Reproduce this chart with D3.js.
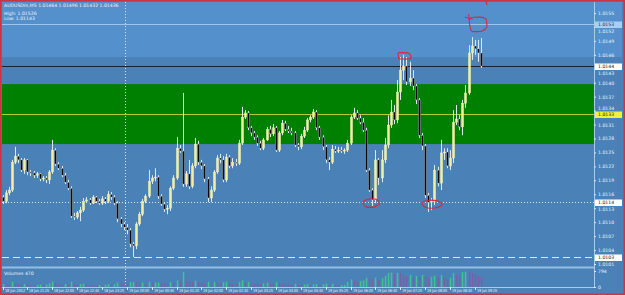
<!DOCTYPE html>
<html>
<head>
<meta charset="utf-8">
<script src="https://cdn.jsdelivr.net/npm/d3@7"></script>
<style>
  html, body { margin: 0; padding: 0; background: #fff; }
  svg { display: block; font-family: "DejaVu Sans", sans-serif; }
</style>
</head>
<body>
<svg id="chart" width="625" height="295"></svg>
<script>
// AUDUSDm M5, 18 Jun 20:40 .. 19 Jun 09:35
const symbol = "AUDUSDm,M5";

const opens = [
  1.01154, 1.01145, 1.01163, 1.01169, 1.01229, 1.01242, 1.01234, 1.01212, 1.01234, 1.01208,
  1.01206, 1.01201, 1.01204, 1.01193, 1.01195, 1.01191, 1.01208, 1.01255, 1.01225, 1.01216,
  1.01201, 1.01186, 1.01173, 1.01113, 1.01111, 1.01120, 1.01126, 1.01145, 1.01148, 1.01141,
  1.01154, 1.01145, 1.01141, 1.01150, 1.01145, 1.01160, 1.01154, 1.01141, 1.01107, 1.01096,
  1.01089, 1.01083, 1.01053, 1.01049, 1.01096, 1.01117, 1.01145, 1.01156, 1.01188, 1.01195,
  1.01197, 1.01156, 1.01139, 1.01128, 1.01130, 1.01173, 1.01195, 1.01259, 1.01253, 1.01182,
  1.01204, 1.01177, 1.01221, 1.01268, 1.01229, 1.01221, 1.01193, 1.01152, 1.01169, 1.01208,
  1.01238, 1.01234, 1.01191, 1.01240, 1.01221, 1.01229, 1.01227, 1.01270, 1.01326, 1.01335,
  1.01303, 1.01292, 1.01283, 1.01270, 1.01259, 1.01277, 1.01300, 1.01290, 1.01303, 1.01255,
  1.01292, 1.01313, 1.01300, 1.01296, 1.01292, 1.01266, 1.01262, 1.01285, 1.01298, 1.01320,
  1.01326, 1.01337, 1.01303, 1.01283, 1.01262, 1.01234, 1.01229, 1.01257, 1.01253, 1.01255,
  1.01253, 1.01255, 1.01270, 1.01326, 1.01335, 1.01324, 1.01315, 1.01298, 1.01212, 1.01169,
  1.01148, 1.01234, 1.01195, 1.01234, 1.01266, 1.01309, 1.01337, 1.01320, 1.01380, 1.01427,
  1.01436, 1.01402, 1.01410, 1.01393, 1.01363, 1.01287, 1.01264, 1.01158, 1.01143, 1.01145,
  1.01212, 1.01184, 1.01249, 1.01251, 1.01221, 1.01238, 1.01315, 1.01322, 1.01305, 1.01356,
  1.01378, 1.01464, 1.01479, 1.01473, 1.01464
];
const highs = [
  1.01158, 1.01169, 1.01176, 1.01234, 1.01262, 1.01247, 1.01238, 1.01238, 1.01236, 1.01212,
  1.01210, 1.01208, 1.01206, 1.01199, 1.01199, 1.01212, 1.01277, 1.01259, 1.01229, 1.01221,
  1.01206, 1.01191, 1.01177, 1.01120, 1.01124, 1.01133, 1.01152, 1.01154, 1.01152, 1.01158,
  1.01156, 1.01150, 1.01156, 1.01154, 1.01167, 1.01165, 1.01158, 1.01145, 1.01111, 1.01100,
  1.01096, 1.01087, 1.01057, 1.01100, 1.01122, 1.01150, 1.01160, 1.01212, 1.01201, 1.01216,
  1.01201, 1.01160, 1.01143, 1.01137, 1.01177, 1.01201, 1.01283, 1.01266, 1.01378, 1.01210,
  1.01234, 1.01227, 1.01281, 1.01275, 1.01234, 1.01225, 1.01197, 1.01177, 1.01212, 1.01244,
  1.01247, 1.01242, 1.01247, 1.01244, 1.01238, 1.01236, 1.01277, 1.01348, 1.01341, 1.01339,
  1.01307, 1.01296, 1.01287, 1.01275, 1.01281, 1.01305, 1.01307, 1.01311, 1.01307, 1.01296,
  1.01320, 1.01318, 1.01307, 1.01303, 1.01296, 1.01270, 1.01290, 1.01305, 1.01324, 1.01330,
  1.01343, 1.01341, 1.01307, 1.01287, 1.01266, 1.01240, 1.01266, 1.01264, 1.01262, 1.01262,
  1.01259, 1.01277, 1.01330, 1.01346, 1.01341, 1.01330, 1.01324, 1.01303, 1.01216, 1.01173,
  1.01255, 1.01238, 1.01255, 1.01281, 1.01330, 1.01363, 1.01352, 1.01406, 1.01455, 1.01460,
  1.01455, 1.01445, 1.01427, 1.01397, 1.01367, 1.01292, 1.01268, 1.01163, 1.01152, 1.01223,
  1.01219, 1.01277, 1.01259, 1.01259, 1.01255, 1.01341, 1.01352, 1.01330, 1.01363, 1.01395,
  1.01481, 1.01498, 1.01492, 1.01492, 1.01496
];
const lows = [
  1.01139, 1.01141, 1.01158, 1.01165, 1.01225, 1.01227, 1.01208, 1.01204, 1.01201, 1.01199,
  1.01195, 1.01195, 1.01188, 1.01188, 1.01184, 1.01182, 1.01204, 1.01221, 1.01212, 1.01197,
  1.01182, 1.01169, 1.01109, 1.01105, 1.01107, 1.01102, 1.01122, 1.01141, 1.01137, 1.01139,
  1.01141, 1.01137, 1.01137, 1.01139, 1.01141, 1.01148, 1.01137, 1.01100, 1.01089, 1.01083,
  1.01074, 1.01046, 1.01025, 1.01042, 1.01092, 1.01113, 1.01141, 1.01152, 1.01182, 1.01188,
  1.01150, 1.01135, 1.01122, 1.01117, 1.01124, 1.01169, 1.01191, 1.01249, 1.01176, 1.01176,
  1.01171, 1.01173, 1.01216, 1.01223, 1.01214, 1.01186, 1.01143, 1.01143, 1.01165, 1.01204,
  1.01227, 1.01186, 1.01186, 1.01216, 1.01216, 1.01221, 1.01223, 1.01266, 1.01322, 1.01298,
  1.01285, 1.01277, 1.01264, 1.01255, 1.01255, 1.01275, 1.01283, 1.01285, 1.01251, 1.01251,
  1.01287, 1.01296, 1.01292, 1.01287, 1.01262, 1.01255, 1.01257, 1.01281, 1.01294, 1.01315,
  1.01322, 1.01298, 1.01277, 1.01255, 1.01227, 1.01212, 1.01225, 1.01249, 1.01249, 1.01249,
  1.01247, 1.01251, 1.01266, 1.01322, 1.01320, 1.01311, 1.01294, 1.01208, 1.01165, 1.01135,
  1.01141, 1.01180, 1.01186, 1.01227, 1.01259, 1.01303, 1.01311, 1.01313, 1.01363, 1.01406,
  1.01395, 1.01393, 1.01384, 1.01354, 1.01281, 1.01255, 1.01152, 1.01122, 1.01126, 1.01137,
  1.01177, 1.01169, 1.01234, 1.01216, 1.01212, 1.01227, 1.01309, 1.01298, 1.01287, 1.01346,
  1.01374, 1.01449, 1.01460, 1.01445, 1.01432
];
const closes = [
  1.01145, 1.01163, 1.01169, 1.01229, 1.01242, 1.01234, 1.01212, 1.01234, 1.01208, 1.01206,
  1.01201, 1.01204, 1.01193, 1.01195, 1.01191, 1.01208, 1.01255, 1.01225, 1.01216, 1.01201,
  1.01186, 1.01173, 1.01113, 1.01111, 1.01120, 1.01126, 1.01145, 1.01148, 1.01141, 1.01154,
  1.01145, 1.01141, 1.01150, 1.01145, 1.01160, 1.01154, 1.01141, 1.01107, 1.01096, 1.01089,
  1.01083, 1.01053, 1.01049, 1.01096, 1.01117, 1.01145, 1.01156, 1.01188, 1.01195, 1.01197,
  1.01156, 1.01139, 1.01128, 1.01130, 1.01173, 1.01195, 1.01259, 1.01253, 1.01182, 1.01204,
  1.01177, 1.01221, 1.01268, 1.01229, 1.01221, 1.01193, 1.01152, 1.01169, 1.01208, 1.01238,
  1.01234, 1.01191, 1.01240, 1.01221, 1.01229, 1.01227, 1.01270, 1.01326, 1.01335, 1.01303,
  1.01292, 1.01283, 1.01270, 1.01259, 1.01277, 1.01300, 1.01290, 1.01303, 1.01255, 1.01292,
  1.01313, 1.01300, 1.01296, 1.01292, 1.01266, 1.01262, 1.01285, 1.01298, 1.01320, 1.01326,
  1.01337, 1.01303, 1.01283, 1.01262, 1.01234, 1.01229, 1.01257, 1.01253, 1.01255, 1.01253,
  1.01255, 1.01270, 1.01326, 1.01335, 1.01324, 1.01315, 1.01298, 1.01212, 1.01169, 1.01148,
  1.01234, 1.01195, 1.01234, 1.01266, 1.01309, 1.01337, 1.01320, 1.01380, 1.01427, 1.01436,
  1.01402, 1.01410, 1.01393, 1.01363, 1.01287, 1.01264, 1.01158, 1.01143, 1.01145, 1.01212,
  1.01184, 1.01249, 1.01251, 1.01221, 1.01238, 1.01315, 1.01322, 1.01305, 1.01356, 1.01378,
  1.01464, 1.01479, 1.01473, 1.01464, 1.01436
];
const volumes = [
  150, 120, 100, 260, 180, 140, 120, 150, 130, 90,
  80, 110, 120, 90, 130, 190, 280, 200, 140, 120,
  150, 130, 260, 150, 120, 140, 170, 110, 100, 90,
  80, 100, 90, 110, 150, 120, 140, 230, 180, 170,
  160, 240, 250, 230, 210, 220, 180, 260, 200, 220,
  230, 200, 180, 170, 240, 220, 330, 240, 760, 300,
  280, 260, 320, 250, 200, 180, 260, 220, 240, 230,
  180, 240, 260, 190, 160, 150, 250, 330, 220, 240,
  180, 170, 160, 150, 190, 210, 170, 160, 230, 200,
  180, 150, 120, 110, 160, 130, 100, 120, 140, 110,
  130, 150, 120, 140, 180, 120, 160, 110, 80, 90,
  100, 250, 380, 330, 280, 300, 340, 460, 420, 380,
  470, 350, 430, 560, 700, 720, 650, 700, 680, 560,
  520, 600, 480, 540, 500, 600, 520, 470, 500, 560,
  480, 600, 420, 380, 460, 700, 620, 540, 740, 760,
  750, 700, 620, 520, 470
];

const priceTicks = [1.0155, 1.0152, 1.0149, 1.0146, 1.0143, 1.0140, 1.0137, 1.0134, 1.0131,
  1.0128, 1.0125, 1.0122, 1.0119, 1.0116, 1.0113, 1.0110, 1.0107, 1.0104, 1.0101];
const timeTickBars = [0, 8, 16, 24, 32, 40, 48, 56, 64, 72, 80, 88, 96, 104, 112, 120, 128, 136, 144, 152];
const timeLabels = ["18 Jun 2012", "18 Jun 21:20", "18 Jun 22:00", "18 Jun 22:40", "18 Jun 23:20",
  "19 Jun 00:00", "19 Jun 00:40", "19 Jun 01:20", "19 Jun 02:00", "19 Jun 02:40", "19 Jun 03:20",
  "19 Jun 04:00", "19 Jun 04:40", "19 Jun 05:20", "19 Jun 06:00", "19 Jun 06:40", "19 Jun 07:20",
  "19 Jun 08:00", "19 Jun 08:40", "19 Jun 09:20"];
const daySeparatorBar = 40;

// horizontal objects on the chart
const highLevel = 1.01526;
const pivotLevel = 1.01333;
const lowLevel = 1.01143;
const dashLevel = 1.01025;
const upperZone = [1.0160, 1.01455];
const greenZone = [1.01397, 1.01268];
const volumeMax = 794;

const svg = d3.select("#chart");
const W = 625, H = 295;
const plot = {left: 2, right: 594, top: 2, bottom: 266};
const vol = {top: 269, bottom: 287};
const n = closes.length;
const last = n - 1;

const x = d3.scaleLinear().domain([0, 154]).range([2.5, 481]);
const y = d3.scaleLinear().domain([1.0155, 1.0101]).range([13, 264]);
const yv = d3.scaleLinear().domain([0, volumeMax]).range([vol.bottom, 271]);

// background
svg.append("rect").attr("width", W).attr("height", H).attr("fill", "#4a82b8");
svg.append("rect")
  .attr("x", plot.left).attr("y", plot.top)
  .attr("width", W - plot.left - 3).attr("height", y(upperZone[1]) - plot.top)
  .attr("fill", "#5490cb");
svg.append("rect")
  .attr("x", plot.left).attr("y", y(greenZone[0]))
  .attr("width", plot.right - plot.left).attr("height", y(greenZone[1]) - y(greenZone[0]))
  .attr("fill", "#008000");

// price axis separator
svg.append("line")
  .attr("x1", plot.right + 0.5).attr("x2", plot.right + 0.5)
  .attr("y1", plot.top).attr("y2", vol.bottom + 1)
  .attr("stroke", "#a9cbea").attr("stroke-width", 1);

// volume window separator
svg.append("rect")
  .attr("x", plot.left).attr("y", plot.bottom + 0.5)
  .attr("width", plot.right - plot.left).attr("height", 2)
  .attr("fill", "#93bde3");
svg.append("line")
  .attr("x1", plot.left).attr("x2", plot.right)
  .attr("y1", vol.bottom + 0.5).attr("y2", vol.bottom + 0.5)
  .attr("stroke", "#a9cbea");

// level lines
function hline(p, color, dash) {
  svg.append("line")
    .attr("x1", plot.left).attr("x2", plot.right)
    .attr("y1", Math.round(y(p)) + 0.5).attr("y2", Math.round(y(p)) + 0.5)
    .attr("stroke", color).attr("stroke-width", 1)
    .attr("stroke-dasharray", dash);
}
hline(highLevel, "#9cc6ee", null);
hline(pivotLevel, "#b4cc3a", null);
hline(lowLevel, "#dbe7f3", "1,2");
hline(dashLevel, "#dbe7f3", "7,4");
hline(closes[last], "#14213d", null);

// day separator
svg.append("line")
  .attr("x1", Math.round(x(daySeparatorBar)) - 1.5).attr("x2", Math.round(x(daySeparatorBar)) - 1.5)
  .attr("y1", plot.top).attr("y2", vol.bottom)
  .attr("stroke", "#dbe7f3").attr("stroke-dasharray", "1,2");

// candles
const bars = d3.range(n);
const candles = svg.append("g");
candles.selectAll("line")
  .data(bars)
  .enter()
  .append("line")
  .attr("x1", i => Math.round(x(i)) + 0.5)
  .attr("x2", i => Math.round(x(i)) + 0.5)
  .attr("y1", i => y(highs[i]))
  .attr("y2", i => y(lows[i]))
  .attr("stroke", "#dfe9f3")
  .attr("stroke-width", 1);
candles.selectAll("rect")
  .data(bars)
  .enter()
  .append("rect")
  .attr("x", i => Math.round(x(i)) - 0.6)
  .attr("y", i => y(Math.max(opens[i], closes[i])))
  .attr("width", 2.2)
  .attr("height", i => Math.max(1, Math.abs(y(opens[i]) - y(closes[i]))))
  .attr("fill", i => closes[i] >= opens[i] ? "#f2ee9e" : "#080808")
  .attr("stroke", i => closes[i] >= opens[i] ? "#f6f3c0" : "#c9d6e3")
  .attr("stroke-width", 0.4);

// volumes
svg.append("g").selectAll("rect")
  .data(bars)
  .enter()
  .append("rect")
  .attr("x", i => Math.round(x(i)) - 0.2)
  .attr("y", i => yv(volumes[i]))
  .attr("width", 1.5)
  .attr("height", i => vol.bottom - yv(volumes[i]))
  .attr("fill", i => (i === 0 || volumes[i] > volumes[i - 1]) ? "#3fc48c" : "#7d5fa6");

// header texts
const txt = (xx, yy, s, size) => svg.append("text")
  .attr("x", xx).attr("y", yy).text(s)
  .attr("fill", "#eef4fa").attr("font-size", size || 4.6);
const f5 = d3.format(".5f");
txt(4, 6.5, symbol + "  " + f5(opens[last]) + " " + f5(highs[last]) + " " + f5(lows[last]) + " " + f5(closes[last]));
txt(4, 15, "High: " + f5(highLevel));
txt(4, 19.5, "Low: " + f5(lowLevel));
txt(4, 275, "Volumes " + volumes[last]);

// highlighted price tags (drawn over the scale)
const f4 = d3.format(".4f");
const tags = [
  {p: highLevel, bg: "#a6cff3", fg: "#1c3550"},
  {p: closes[last], bg: "#ffffff", fg: "#111"},
  {p: pivotLevel, bg: "#eef23a", fg: "#202000"},
  {p: lowLevel, bg: "#ffffff", fg: "#111"},
  {p: dashLevel, bg: "#ffffff", fg: "#111"}
];
const tagY = tags.map(t => Math.round(y(t.p)) + 0.5);

// price axis
const pAxis = svg.append("g")
  .attr("transform", "translate(" + plot.right + ",0)")
  .call(d3.axisRight(y).tickValues(priceTicks).tickFormat(f4).tickSize(2).tickPadding(2));
pAxis.select(".domain").remove();
pAxis.selectAll("line").attr("stroke", "#dbe7f3");
pAxis.selectAll("text")
  .attr("fill", "#eef4fa").attr("font-size", 4.6).attr("font-family", "DejaVu Sans")
  .attr("dy", p => {
    // push a scale label away from a tag that sits on top of it
    const py = y(p);
    let shift = 0;
    tagY.forEach(ty => {
      const d = py - ty;
      if (Math.abs(d) < 6.5) shift = d >= 0 ? 6.5 - d : -(6.5 + d);
    });
    return (0.32 * 4.6 + shift) + "px";
  });

tags.forEach((t, k) => {
  svg.append("rect").attr("x", plot.right + 1).attr("y", tagY[k] - 3)
    .attr("width", 27).attr("height", 6.5).attr("fill", t.bg);
  svg.append("text").attr("x", plot.right + 4).attr("y", tagY[k] + 1.7)
    .text(f4(t.p)).attr("fill", t.fg).attr("font-size", 4.6);
});

// volume axis
const vAxis = svg.append("g")
  .attr("transform", "translate(" + plot.right + ",0)")
  .call(d3.axisRight(yv).tickValues([0, volumeMax]).tickSize(2).tickPadding(2));
vAxis.select(".domain").remove();
vAxis.selectAll("line").attr("stroke", "#dbe7f3");
vAxis.selectAll("text").attr("fill", "#eef4fa").attr("font-size", 4.6).attr("font-family", "DejaVu Sans");

// time axis
const tAxis = svg.append("g");
tAxis.selectAll("line")
  .data(timeTickBars)
  .enter()
  .append("line")
  .attr("x1", i => Math.round(x(i)) + 0.5).attr("x2", i => Math.round(x(i)) + 0.5)
  .attr("y1", vol.bottom).attr("y2", vol.bottom + 3)
  .attr("stroke", "#dbe7f3");
tAxis.selectAll("text")
  .data(timeTickBars)
  .enter()
  .append("text")
  .attr("x", i => Math.round(x(i)) + 2)
  .attr("y", 292)
  .text((d, k) => timeLabels[k])
  .attr("fill", "#eef4fa")
  .attr("font-size", 4.2)
  .attr("textLength", 20)
  .attr("lengthAdjust", "spacingAndGlyphs");

// hand drawn red marks
const red = "#d8283a";
const loop = d3.line().curve(d3.curveCardinalClosed.tension(0.3));
function mark(cx, cy, pts) {
  svg.append("path")
    .attr("d", loop(pts.map(p => [cx + p[0], cy + p[1]])))
    .attr("fill", "none").attr("stroke", red).attr("stroke-width", 1.1);
}
mark(x(119) - 1, y(lows[119]) - 3, [[-7, -2], [-1, -4], [6, -3], [8, 1], [3, 4], [-5, 4], [-8, 1]]);
mark(x(129) + 1, y(highs[129]) + 1, [[-6, -3], [3, -3], [6, -1], [6, 3], [-5, 3], [-6, 0]]);
mark(x(138) + 1, y(closes[137]) + 2, [[-10, -2], [-3, -4], [6, -3], [10, 0], [6, 3], [-3, 4], [-9, 2]]);
mark(x(152) + 3, y(highs[151]) - 13, [[-8, -6], [2, -7], [8, -5], [9, 3], [4, 7], [-6, 7], [-8, 1]]);
svg.append("path")
  .attr("d", "M" + (x(152) - 10) + "," + (y(highs[151]) - 20) + " l 8,2 M" + (x(152) - 6) + "," + (y(highs[151]) - 23) + " l 0,5")
  .attr("stroke", red).attr("stroke-width", 1).attr("fill", "none");
svg.append("path")
  .attr("d", "M" + (x(154) + 5) + ",1 l 1,4")
  .attr("stroke", red).attr("stroke-width", 1.2);

// outer frame
svg.append("rect")
  .attr("x", 0.75).attr("y", 0.75).attr("width", W - 1.5).attr("height", H - 1.5)
  .attr("fill", "none").attr("stroke", "#cc3344").attr("stroke-width", 1.5);
</script>
</body>
</html>
